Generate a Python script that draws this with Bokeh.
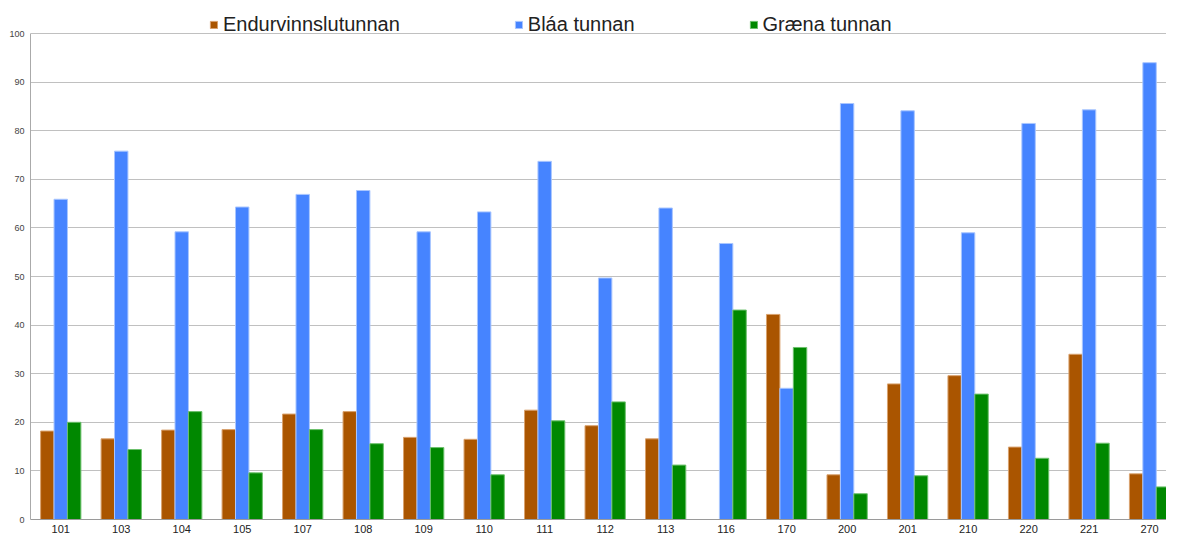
from bokeh.plotting import figure
from bokeh.models import Range1d, FixedTicker, Legend, LegendItem, ColumnDataSource
from bokeh.transform import dodge
from bokeh.embed import file_html
from bokeh.resources import INLINE

categories = ["101", "103", "104", "105", "107", "108", "109", "110", "111", "112",
              "113", "116", "170", "200", "201", "210", "220", "221", "270"]
endurvinnslutunnan = [18.2, 16.6, 18.4, 18.5, 21.7, 22.2, 16.9, 16.5, 22.5, 19.3,
                      16.6, 0.0, 42.2, 9.2, 27.9, 29.6, 14.9, 34.0, 9.4]
blaa_tunnan = [65.9, 75.8, 59.2, 64.3, 66.9, 67.7, 59.2, 63.3, 73.7, 49.7,
               64.1, 56.8, 27.0, 85.6, 84.1, 59.0, 81.5, 84.3, 94.0]
graena_tunnan = [20.0, 14.4, 22.2, 9.6, 18.5, 15.6, 14.8, 9.2, 20.3, 24.2,
                 11.2, 43.1, 35.4, 5.3, 9.0, 25.8, 12.6, 15.7, 6.7]
series_labels = ["Endurvinnslutunnan", "Bláa tunnan", "Græna tunnan"]
y_ticks = list(range(0, 101, 10))

colors = ["#AA5500", "#4684FF", "#008800"]
edge_colors = ["#D9A26E", "#A9C6FF", "#6CC06C"]

xpos = [i + 0.5 for i in range(len(categories))]
source = ColumnDataSource(dict(x=xpos, cat=categories, e=endurvinnslutunnan,
                               b=blaa_tunnan, g=graena_tunnan))

p = figure(width=1166, height=537, output_backend="svg", toolbar_location=None,
           x_range=Range1d(0, 18.78), y_range=Range1d(0, 106.8),
           min_border_left=30, min_border_right=0, min_border_top=0, min_border_bottom=18)
p.outline_line_color = None
p.background_fill_color = "white"
p.border_fill_color = "white"

bw = 0.222
renderers = []
for col, off, c, ec in zip(["e", "b", "g"], [-bw, 0.0, bw], colors, edge_colors):
    r = p.vbar(x=dodge("x", off), top=col, bottom=0, width=bw, source=source,
               fill_color=c, line_color=ec, line_width=1)
    renderers.append(r)

# axes
p.xaxis.ticker = FixedTicker(ticks=xpos)
p.xaxis.major_label_overrides = {x: c for x, c in zip(xpos, categories)}
p.xaxis.major_tick_out = 0
p.xaxis.major_tick_in = 0
p.xaxis.minor_tick_out = 0
p.xaxis.minor_tick_in = 0
p.xaxis.axis_line_color = "#9A9A9A"
p.xaxis.major_label_text_font = "Liberation Sans"
p.xaxis.major_label_text_font_size = "11px"
p.xaxis.major_label_text_color = "#222222"
p.xaxis.major_label_standoff = 5

p.yaxis.ticker = FixedTicker(ticks=y_ticks)
p.yaxis.bounds = (0, 100)
p.yaxis.major_tick_out = 0
p.yaxis.major_tick_in = 0
p.yaxis.minor_tick_out = 0
p.yaxis.minor_tick_in = 0
p.yaxis.axis_line_color = "#AAAAAA"
p.yaxis.major_label_text_font = "Liberation Sans"
p.yaxis.major_label_text_font_size = "9px"
p.yaxis.major_label_text_color = "#444444"
p.yaxis.major_label_standoff = 6

p.xgrid.grid_line_color = None
p.ygrid.ticker = FixedTicker(ticks=y_ticks)
p.ygrid.grid_line_color = "#C0C0C0"
p.ygrid.grid_line_width = 1

legend = Legend(items=[LegendItem(label=lab, renderers=[r]) for lab, r in zip(series_labels, renderers)],
                orientation="horizontal", location=(179, 483), spacing=114, label_standoff=5,
                glyph_width=9, glyph_height=9, padding=0, margin=0,
                border_line_color=None, background_fill_alpha=0,
                label_text_font="Liberation Sans", label_text_font_size="20px",
                label_text_color="#222222")
p.add_layout(legend, "center")

open("out.html", "w").write(file_html(p, INLINE))
